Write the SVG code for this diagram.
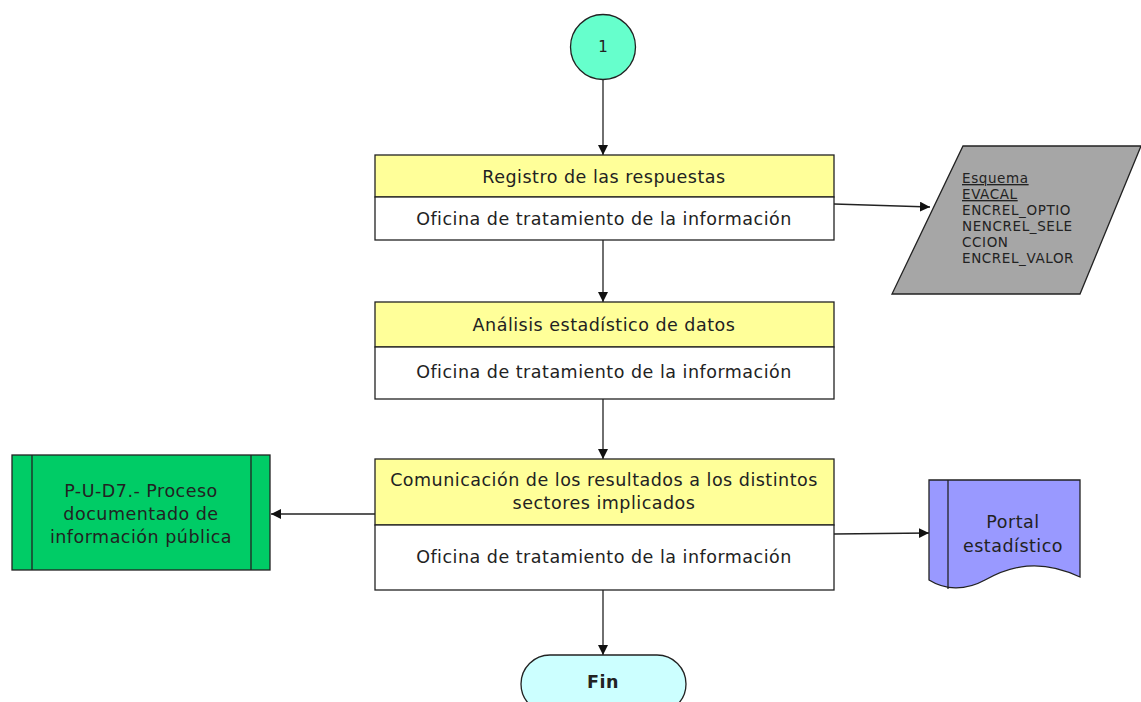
<svg xmlns="http://www.w3.org/2000/svg" width="1141" height="702" viewBox="0 0 1141 702">
<style>
text{font-family:"DejaVu Sans",Verdana,sans-serif;fill:#222;}
.t{font-size:17.5px;letter-spacing:0.5px;text-anchor:middle;}
.sh{stroke:#222;stroke-width:1.3;}
.cn{stroke:#222;stroke-width:1.3;fill:none;marker-end:url(#ah);}
.yl{fill:#ffff99;}
.wh{fill:#ffffff;}
.sm{font-size:13.5px;letter-spacing:0.6px;}
</style>
<defs>
<marker id="ah" markerWidth="12" markerHeight="12" refX="10" refY="5" orient="auto" markerUnits="userSpaceOnUse">
<path d="M0,0 L10,5 L0,10 z" fill="#111"/>
</marker>
</defs>
<rect width="1141" height="702" fill="#fff"/>
<g id="connectors">
<line class="cn" x1="603" y1="80" x2="603" y2="155"/>
<line class="cn" x1="603" y1="240" x2="603" y2="302"/>
<line class="cn" x1="603" y1="399" x2="603" y2="459"/>
<line class="cn" x1="603" y1="590" x2="603" y2="655"/>
<line class="cn" x1="834" y1="204" x2="930" y2="207"/>
<line class="cn" x1="375" y1="514" x2="271" y2="514"/>
<line class="cn" x1="834" y1="534" x2="929" y2="533"/>
</g>
<g id="start">
<circle class="sh" cx="603" cy="47" r="32.5" fill="#66ffcc"/>
<text x="603" y="52" font-size="15" text-anchor="middle">1</text>
</g>
<g id="n1">
<rect class="sh yl" x="375" y="155" width="459" height="42"/>
<rect class="sh wh" x="375" y="197" width="459" height="43"/>
<text class="t" x="604" y="183">Registro de las respuestas</text>
<text class="t" x="604" y="225">Oficina de tratamiento de la información</text>
</g>
<g id="n2">
<rect class="sh yl" x="375" y="302" width="459" height="45"/>
<rect class="sh wh" x="375" y="347" width="459" height="52"/>
<text class="t" x="604" y="331">Análisis estadístico de datos</text>
<text class="t" x="604" y="378">Oficina de tratamiento de la información</text>
</g>
<g id="n3">
<rect class="sh yl" x="375" y="459" width="459" height="66"/>
<rect class="sh wh" x="375" y="525" width="459" height="65"/>
<text class="t" x="604" y="486">Comunicación de los resultados a los distintos</text>
<text class="t" x="604" y="509">sectores implicados</text>
<text class="t" x="604" y="563">Oficina de tratamiento de la información</text>
</g>
<g id="fin">
<rect class="sh" x="521" y="655" width="165" height="58" rx="29" fill="#ccffff"/>
<text class="t" x="603" y="688" font-weight="bold">Fin</text>
</g>
<g id="proceso">
<rect class="sh" x="12" y="455" width="258" height="115" fill="#00cc66"/>
<line class="sh" x1="32" y1="455" x2="32" y2="570"/>
<line class="sh" x1="251" y1="455" x2="251" y2="570"/>
<text class="t" x="141" y="497">P-U-D7.- Proceso</text>
<text class="t" x="141" y="520">documentado de</text>
<text class="t" x="141" y="543">información pública</text>
</g>
<g id="esquema">
<polygon class="sh" points="963,146 1141,146 1080,294 892,294" fill="#a6a6a6"/>
<g class="sm">
<text x="962" y="183" text-decoration="underline">Esquema</text>
<text x="962" y="199" text-decoration="underline">EVACAL</text>
<text x="962" y="215">ENCREL_OPTIO</text>
<text x="962" y="231">NENCREL_SELE</text>
<text x="962" y="247">CCION</text>
<text x="962" y="263">ENCREL_VALOR</text>
</g>
</g>
<g id="portal">
<path class="sh" d="M929,480 H1080 V577 C1040,558 1010,566 985,580 C965,591 945,590 929,580 Z" fill="#9999ff"/>
<line class="sh" x1="948" y1="480" x2="948" y2="589"/>
<text class="t" x="1013" y="528">Portal</text>
<text class="t" x="1013" y="552">estadístico</text>
</g>
</svg>
